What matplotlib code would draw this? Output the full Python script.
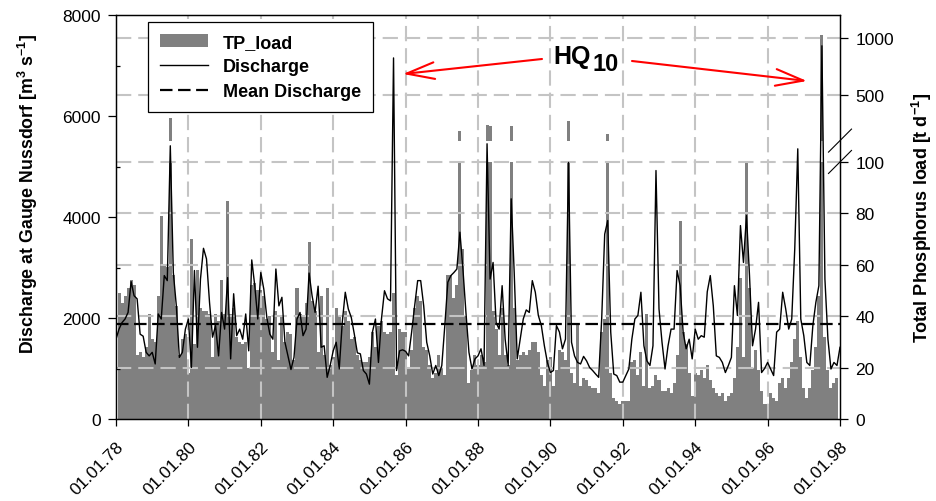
import numpy as np
import matplotlib
matplotlib.use("Agg")
import matplotlib.pyplot as plt
from matplotlib.lines import Line2D
from matplotlib.patches import Patch, FancyArrowPatch
from matplotlib.transforms import blended_transform_factory

plt.rcParams["font.family"] = ["Liberation Sans", "DejaVu Sans"]
plt.rcParams["mathtext.fontset"] = "custom"
plt.rcParams["mathtext.rm"] = "Liberation Sans:bold"
plt.rcParams["mathtext.it"] = "Liberation Sans:bold"
plt.rcParams["mathtext.bf"] = "Liberation Sans:bold"
plt.rcParams["lines.scale_dashes"] = False

# ---- monthly discharge at gauge Nussdorf [m3/s] ----
q_1978_81 = [1580, 1780, 1910, 1980, 2110, 2720, 2440, 2380, 1680, 1640, 1320, 1250,
             1320, 1090, 2080, 1980, 2840, 2740, 5410, 2900, 2240, 1220, 1320, 1780,
             1980, 1020, 2940, 1420, 2770, 3380, 3170, 2310, 1620, 1850, 1250, 2110,
             1780, 2800, 1190, 2480, 1650, 1780, 1580, 2080, 1350, 3150, 2640, 1980]
q_1982_85 = [2900, 2570, 2010, 1680, 1580, 2970, 2240, 2410, 1520, 1250, 980, 1220,
             1980, 2110, 1650, 1780, 2890, 2440, 2110, 2630, 1420, 1450, 825, 1060,
             1350, 1520, 990, 1910, 2510, 2180, 2010, 1680, 1310, 1290, 960, 890,
             690, 1720, 1980, 1120, 1980, 2540, 2380, 2340, 7150, 960, 1350, 1370]
q_1986_89 = [1340, 1250, 1720, 2240, 2740, 2740, 2240, 1520, 1250, 890, 1060, 860,
             1060, 1850, 2710, 2840, 2900, 2970, 3700, 2970, 2110, 1320, 990, 1190,
             1250, 1390, 1060, 5450, 2770, 3100, 1910, 1780, 2640, 1580, 1060, 4360,
             2900, 1190, 1580, 1980, 2160, 2110, 2740, 2510, 2050, 1850, 1450, 1120]
q_1990_93 = [920, 960, 1850, 1720, 1390, 1580, 5080, 1520, 1250, 1120, 1090, 1240,
             1150, 1020, 960, 890, 825, 1980, 3660, 3930, 1720, 890, 860, 730,
             730, 860, 990, 1580, 1980, 2050, 2510, 1450, 1150, 1060, 1450, 4920,
             2180, 1520, 990, 1450, 1780, 1780, 2940, 2640, 1720, 1390, 1580, 1190]
q_1994_97 = [1780, 1580, 1650, 1620, 2520, 2840, 2240, 1250, 1220, 1120, 920, 1060,
             1220, 2640, 2050, 3830, 3100, 4030, 2840, 1450, 1780, 2310, 920, 1000,
             1120, 990, 860, 1720, 1780, 2510, 2180, 1780, 1980, 3370, 5350, 1980,
             1650, 1120, 1060, 1850, 2310, 2640, 7390, 2770, 1580, 990, 1120, 1060]
q_1998 = [1420]
mean_discharge = 1880

# ---- monthly total phosphorus load [t/d] ----
tp_1978_81 = [0, 49, 45, 48, 51, 54, 52, 25, 26, 24, 28, 41,
              31, 30, 48, 79, 60, 59, 298, 56, 44, 25, 31, 33,
              18, 70, 29, 58, 43, 42, 42, 41, 24, 41, 38, 54,
              41, 85, 41, 43, 32, 30, 29, 30, 20, 52, 53, 50]
tp_1982_85 = [50, 48, 39, 40, 26, 42, 23, 40, 30, 34, 33, 23,
              51, 41, 40, 45, 69, 46, 42, 26, 48, 25, 51, 21,
              24, 43, 40, 36, 42, 38, 31, 32, 25, 23, 22, 22,
              24, 34, 28, 36, 38, 34, 33, 34, 49, 17, 35, 34]
tp_1986_89 = [34, 20, 27, 43, 48, 46, 28, 27, 21, 16, 18, 25,
              20, 17, 56, 56, 47, 52, 180, 66, 40, 14, 19, 25,
              21, 25, 22, 237, 225, 42, 35, 25, 43, 25, 21, 231,
              43, 23, 25, 26, 25, 27, 30, 30, 26, 17, 13, 23]
tp_1990_93 = [24, 13, 19, 27, 26, 23, 268, 18, 14, 37, 13, 16,
              15, 13, 12, 12, 10, 34, 39, 158, 18, 8, 7, 6,
              7, 7, 7, 22, 23, 17, 26, 13, 41, 12, 13, 17,
              15, 11, 11, 12, 10, 14, 25, 77, 34, 29, 18, 9]
tp_1994_97 = [18, 17, 19, 16, 21, 15, 12, 10, 9, 10, 7, 9,
              10, 16, 28, 55, 24, 100, 51, 20, 27, 19, 11, 6,
              6, 10, 8, 7, 14, 16, 12, 16, 22, 31, 38, 24,
              12, 8, 12, 19, 28, 48, 1030, 32, 19, 12, 14, 16]

year_ticks = list(range(1978, 1999, 2))
year_labels = ["01.01.%02d" % (y % 100) for y in year_ticks]
q_ticks = [0, 2000, 4000, 6000, 8000]
tp_ticks = [0, 20, 40, 60, 80, 100, 500, 1000]

discharge = np.array(q_1978_81 + q_1982_85 + q_1986_89 + q_1990_93 + q_1994_97 + q_1998, float)
tp_load = np.array(tp_1978_81 + tp_1982_85 + tp_1986_89 + tp_1990_93 + tp_1994_97, float)
t_q = 1978 + np.arange(len(discharge)) / 12.0
t_tp = 1978 + np.arange(len(tp_load)) / 12.0

# broken phosphorus scale expressed in discharge-axis units
LOW_TOP = 5090.0     # position of 100 t/d on the lower segment
HIGH_BASE = 5513.0   # position of 100 t/d on the upper segment
HIGH_TOP = 7545.0    # position of 1000 t/d


def tp_to_axis(v):
    v = np.asarray(v, float)
    return np.where(v <= 100, v * LOW_TOP / 100.0,
                    HIGH_BASE + (v - 100.0) * (HIGH_TOP - HIGH_BASE) / 900.0)


fig = plt.figure(figsize=(9.36, 5.02), dpi=100)
ax = fig.add_axes([116 / 936, 1 - 420 / 502, 724 / 936, 404 / 502])
ax.set_xlim(1978, 1998)
ax.set_ylim(0, 8000)

bar_w = 1.0 / 12
bar_col = "#808080"
tp_pos = tp_to_axis(tp_load)
ax.bar(t_tp, np.minimum(tp_pos, LOW_TOP), width=bar_w, color=bar_col, linewidth=0, zorder=1)
big = tp_load > 100
ax.bar(t_tp[big], tp_pos[big] - HIGH_BASE, bottom=HIGH_BASE, width=bar_w,
       color=bar_col, linewidth=0, zorder=1)

grid_kw = dict(color="#c4c4c4", lw=1.5, dashes=(11, 5), zorder=2)
for v in tp_ticks[1:]:
    ax.axhline(float(tp_to_axis(v)), **grid_kw)
for y in year_ticks[1:-1]:
    ax.axvline(y, **grid_kw)

ax.plot(t_q, discharge, color="black", lw=1.0, zorder=4)
ax.axhline(mean_discharge, color="black", lw=1.6, dashes=(9, 4), zorder=4)

# axes and ticks
for s in ax.spines.values():
    s.set_linewidth(0.9)
ax.set_xticks(year_ticks)
ax.set_xticklabels(year_labels, rotation=45, ha="right", rotation_mode="anchor", fontsize=12.5)
ax.set_yticks(q_ticks)
ax.set_yticklabels([str(v) for v in q_ticks], fontsize=12.5)
ax.set_yticks(np.arange(1000, 8000, 2000), minor=True)
ax.tick_params(axis="y", which="major", direction="out", length=6, width=0.9, pad=5)
ax.tick_params(axis="y", which="minor", direction="in", length=3, width=0.9)
ax.tick_params(axis="x", which="major", direction="out", length=5, width=0.9, pad=9)
ax.set_ylabel("Discharge at Gauge Nussdorf [m$^{3}$ s$^{-1}$]", fontsize=12.8, fontweight="bold")
ax.yaxis.set_label_coords(-0.105, 0.56)

ax2 = ax.twinx()
ax2.set_ylim(ax.get_ylim())
ax2.set_yticks(tp_to_axis(tp_ticks))
ax2.set_yticklabels([str(v) for v in tp_ticks], fontsize=12.5)
ax2.tick_params(axis="y", direction="out", length=6, width=0.9, pad=5)
for s in ax2.spines.values():
    s.set_linewidth(0.9)
ax2.set_ylabel("Total Phosphorus load [t d$^{-1}$]", fontsize=13, fontweight="bold")
ax2.yaxis.set_label_coords(1.096, 0.5)

# break marks on the phosphorus axis
btr = blended_transform_factory(ax.transAxes, ax.transData)
dx, dy = 11.5 / 724, 228
for yb in (LOW_TOP, HIGH_BASE):
    ax2.add_line(Line2D([1 - dx, 1 + dx], [yb - dy, yb + dy], transform=btr,
                        color="black", lw=0.8, clip_on=False))

handles = [Patch(facecolor=bar_col, edgecolor="none"),
           Line2D([], [], color="black", lw=1.0),
           Line2D([], [], color="black", lw=1.6, dashes=(9, 4))]
leg = ax.legend(handles, ["TP_load", "Discharge", "Mean Discharge"],
                loc="upper left", bbox_to_anchor=(148 / 936, 1 - 23 / 502),
                bbox_transform=fig.transFigure, borderaxespad=0, fancybox=False,
                framealpha=1, edgecolor="black", handlelength=2.7, handletextpad=0.8,
                labelspacing=0.42, borderpad=0.65,
                prop=dict(weight="bold", size=13))
leg.get_frame().set_linewidth(0.9)
leg.set_zorder(10)

# HQ10 annotation
fig.text(591 / 936, 1 - 64 / 502, "HQ", fontsize=18, fontweight="bold", ha="right", va="baseline")
fig.text(592 / 936, 1 - 71 / 502, "10", fontsize=17, fontweight="bold", ha="left", va="baseline")
arrow_kw = dict(arrowstyle="->,head_length=2.0,head_width=0.6", mutation_scale=10,
                color="red", lw=1.5, shrinkA=0, shrinkB=0)
fig.add_artist(FancyArrowPatch((542, 502 - 60), (403, 502 - 75), transform=None, **arrow_kw))
fig.add_artist(FancyArrowPatch((632, 502 - 62), (807, 502 - 82), transform=None, **arrow_kw))

fig.savefig("out.png", dpi=100)
